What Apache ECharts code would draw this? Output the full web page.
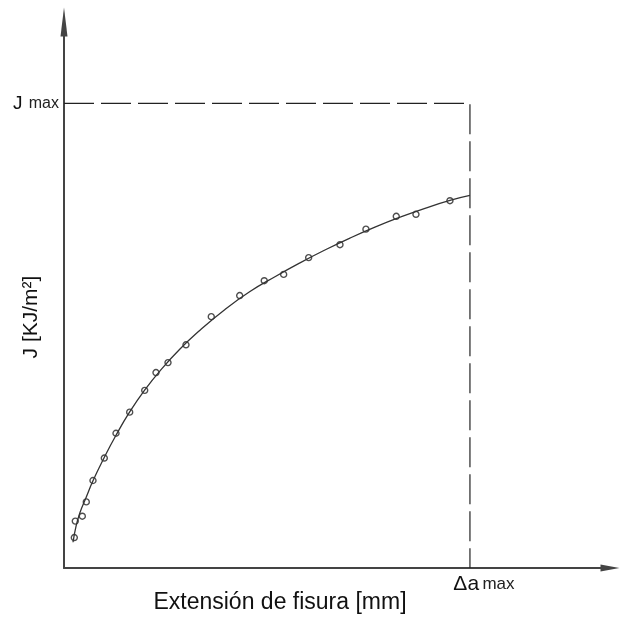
<!DOCTYPE html>
<html>
<head>
<meta charset="utf-8">
<script src="https://cdn.jsdelivr.net/npm/echarts@6/dist/echarts.min.js"></script>
<style>
html,body{margin:0;padding:0;background:#fff;}
#chart{width:620px;height:619px;}
</style>
</head>
<body>
<div id="chart"></div>
<script>
// Measured points (x: % of Δa max, y: % of J max)
var pointsX = [2.54, 2.78, 4.51, 5.49, 7.14, 9.93, 12.81, 16.18, 19.88, 22.66, 25.62, 30.05, 36.28, 43.28, 49.33, 54.11, 60.27, 67.98, 74.38, 81.85, 86.70, 95.07];
var pointsY = [6.55, 10.09, 11.15, 14.22, 18.83, 23.67, 29.00, 33.54, 38.23, 42.07, 44.20, 48.04, 54.09, 58.64, 61.83, 63.18, 66.80, 69.57, 72.92, 75.69, 76.12, 79.04];
// Fitted curve
var curveX = [2.22, 2.96, 3.94, 5.42, 7.14, 9.85, 12.81, 16.26, 19.95, 23.65, 28.57, 33.50, 39.66, 45.81, 51.97, 58.13, 64.29, 70.44, 76.60, 82.76, 88.92, 95.07, 100];
var curveY = [5.54, 8.96, 11.94, 15.14, 18.76, 23.67, 28.57, 33.69, 38.38, 42.43, 47.12, 51.17, 55.65, 59.49, 62.69, 65.67, 68.44, 71.00, 73.35, 75.48, 77.40, 79.10, 80.17];
// Limits
var daMax = 100;
var jMax = 100;
var xLimit = 134.5;
var yLimit = 117.5;
var xTitle = 'Extensión de fisura [mm]';
var yTitle = 'J [KJ/m²]';

var font = 'Liberation Sans, Arial, sans-serif';
var pts = pointsX.map(function(x, i){ return [x, pointsY[i]]; });
var crv = curveX.map(function(x, i){ return [x, curveY[i]]; });

var chart = echarts.init(document.getElementById('chart'), null, {renderer:'canvas'});
chart.setOption({
  backgroundColor: '#fff',
  animation: false,
  grid: {left: 64, right: 10, top: 22, bottom: 46, containLabel: false},
  xAxis: {
    type: 'value', min: 0, max: xLimit, interval: daMax,
    name: xTitle, nameLocation: 'middle', nameGap: 23, nameMoveOverlap: false,
    nameTextStyle: {fontFamily: font, fontSize: 23, color: '#111', padding: [0, 114, 0, 0]},
    axisLine: {show: true, symbol: ['none', 'triangle'], symbolSize: [7, 19], lineStyle: {color: '#444', width: 2}},
    axisTick: {show: false},
    splitLine: {show: false},
    axisLabel: {
      show: true, margin: 6, padding: [0, 0, 0, 28],
      formatter: function(v){ return v === daMax ? '{d|Δa} {m|max}' : ''; },
      rich: {
        d: {fontFamily: font, fontSize: 21, color: '#111'},
        m: {fontFamily: font, fontSize: 17, color: '#222'}
      }
    }
  },
  yAxis: {
    type: 'value', min: 0, max: yLimit, interval: jMax,
    name: yTitle, nameLocation: 'middle', nameGap: 22, nameMoveOverlap: false,
    nameTextStyle: {fontFamily: font, fontSize: 21, color: '#111', padding: [0, 44, 0, 0]},
    axisLine: {show: true, symbol: ['none', 'triangle'], symbolSize: [7, 29], lineStyle: {color: '#444', width: 2}},
    axisTick: {show: false},
    splitLine: {show: false},
    axisLabel: {
      show: true, margin: 5,
      formatter: function(v){ return v === jMax ? '{j|J} {m|max}' : ''; },
      rich: {
        j: {fontFamily: font, fontSize: 19, color: '#111', padding: [0, 3, 0, 0]},
        m: {fontFamily: font, fontSize: 16, color: '#222'}
      }
    }
  },
  series: [
    {
      type: 'line', data: [[0, jMax], [daMax, jMax], [daMax, 0]],
      showSymbol: false, symbol: 'none', silent: true,
      lineStyle: {color: '#222', width: 1.2, type: [30, 7]}
    },
    {
      type: 'line', data: crv, smooth: true, showSymbol: false, symbol: 'none',
      lineStyle: {color: '#333', width: 1.3}
    },
    {
      type: 'scatter', data: pts, symbol: 'circle', symbolSize: 6,
      itemStyle: {color: '#fff', borderColor: '#222', borderWidth: 1.4}
    }
  ]
});
</script>
</body>
</html>
